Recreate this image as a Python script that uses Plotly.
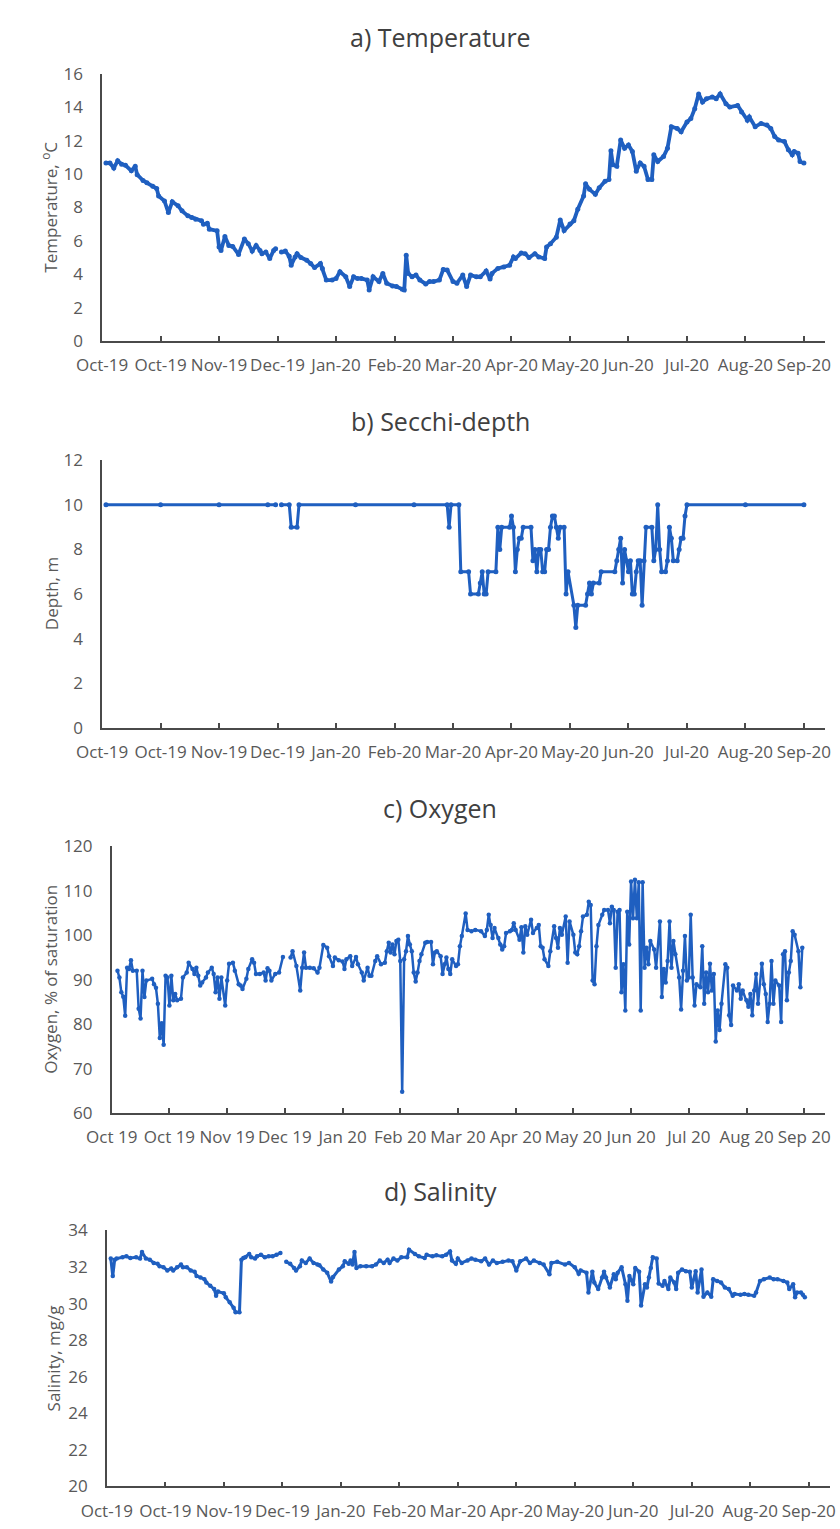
import pandas as pd
import plotly.graph_objects as go

START = "2019-10-01"

# ---------------- data (days since 1 Oct 2019, values) ----------------
temp_days = [2, 4, 6, 8, 10, 12, 15, 17, 18, 21, 23, 26, 28, 29, 32, 34, 36, 39, 41, 44,
             46, 48, 51, 52, 54, 55, 59, 60, 61, 63, 65, 67, 70, 73, 75, 77, 79, 81, 82, 84,
             86, 88, 89, 90, 92, 94, 96, 97, 99, 100, 102, 105, 107, 109, 112, 113, 115, 118, 120, 122,
             125, 127, 129, 131, 133, 136, 137, 139, 142, 144, 146, 149, 151, 154, 155, 156, 157, 159, 161, 163,
             166, 168, 170, 173, 175, 177, 180, 182, 185, 187, 189, 192, 194, 197, 199, 200, 203, 206, 209, 211,
             212, 215, 217, 219, 222, 224, 227, 228, 230, 233, 235, 237, 240, 242, 244, 247, 248, 250, 253, 255,
             258, 260, 261, 262, 264, 266, 268, 270, 272, 274, 276, 278, 280, 282, 283, 285, 288, 290, 292, 295,
             297, 300, 302, 304, 306, 308, 310, 313, 315, 317, 320, 322, 326, 328, 331, 332, 335, 338, 341, 343,
             345, 347, 350, 352, 354, 355, 357, 358, 360]
temp_vals = [10.67, 10.67, 10.37, 10.8, 10.6, 10.53, 10.2, 10.47, 9.97, 9.62, 9.48, 9.28, 9.14, 8.69, 8.39, 7.7, 8.35, 8.1, 7.8, 7.5,
             7.4, 7.3, 7.2, 7.0, 7.05, 6.7, 6.6, 5.63, 5.43, 6.26, 5.73, 5.67, 5.19, 6.12, 5.83, 5.39, 5.73, 5.43, 5.23, 5.33,
             4.94, 5.43, 5.53, None, 5.33, 5.39, 5.08, 4.54, 5.04, 5.23, 5.0, 4.84, 4.64, 4.4, 4.64, 4.35, 3.65, 3.65, 3.75, 4.15,
             3.85, 3.26, 3.85, 3.75, 3.75, 3.65, 3.06, 3.85, 3.56, 4.05, 3.46, 3.3, 3.26, 3.1, 3.06, 5.14, 4.05, 3.85, 3.95, 3.65,
             3.42, 3.56, 3.56, 3.65, 4.29, 4.25, 3.56, 3.46, 3.95, 3.26, 3.95, 3.85, 3.85, 4.2, 3.71, 4.05, 4.35, 4.44, 4.54, 5.04,
             4.94, 5.27, 5.23, 5.0, 5.23, 5.04, 4.94, 5.63, 5.83, 6.22, 7.25, 6.62, 7.01, 7.21, 7.9, 8.69, 9.42, 9.09, 8.79, 9.18,
             9.58, 9.68, 11.4, 10.57, 10.47, 12.05, 11.55, 11.75, 11.36, 10.17, 10.67, 10.47, 9.68, 9.68, 11.16, 10.76, 11.06, 11.55, 12.84, 12.74,
             12.54, 13.13, 13.33, 13.92, 14.81, 14.32, 14.52, 14.62, 14.52, 14.81, 14.22, 14.02, 14.12, 13.73, 13.23, 13.43, 12.84, 13.04, 12.94, 12.74,
             12.25, 12.05, 11.95, 11.46, 11.16, 11.36, 11.26, 10.76, 10.67]

secchi_days = [2, 30, 60, 85, 89, 90, 92, 96, 97, 100, 101, 130, 160, 177, 178, 179, 183, 184, 188, 189,
               193, 194, 195, 196, 197, 198, 202, 203, 204, 205, 209, 210, 211, 212, 213, 214, 215, 216, 220, 221,
               222, 223, 224, 225, 226, 227, 228, 229, 230, 231, 232, 233, 234, 235, 237, 238, 239, 242, 243, 244,
               248, 249, 250, 251, 252, 255, 256, 263, 264, 265, 266, 267, 268, 269, 270, 271, 272, 273, 274, 275,
               276, 277, 278, 279, 282, 283, 284, 285, 286, 287, 289, 290, 291, 292, 293, 295, 296, 297, 298, 299,
               300, 330, 360]
secchi_vals = [10, 10, 10, 10, 10, None, 10, 10, 9, 9, 10, 10, 10, 10, 9, 10, 10, 7, 7, 6,
               6, 6.5, 7, 6, 6, 7, 7, 9, 8, 9, 9, 9.5, 9, 7, 8, 8.5, 8.5, 9, 9, 7.5,
               8, 7, 8, 8, 7, 7, 8, 8, 9, 9.5, 9.5, 9, 8.5, 9, 9, 6, 7, 5.5, 4.5, 5.5,
               5.5, 6, 6.5, 6, 6.5, 6.5, 7, 7, 7.5, 8, 8.5, 6.5, 8, 7.5, 7, 7.5, 6, 6, 7, 7.5,
               7.5, 5.5, 7.5, 9, 9, 7.5, 8, 10, 8, 7, 7, 7.5, 9, 8.5, 7.5, 7.5, 8, 8.5, 8.5, 9.5,
               10, 10, 10]

oxy_days = [3, 4, 5, 6, 7, 8, 9, 10, 11, 13, 14, 15, 16, 17, 18, 21, 22, 23, 24, 25,
            26, 27, 28, 29, 30, 31, 32, 33, 34, 36, 37, 39, 40, 42, 43, 44, 45, 46, 47, 49,
            50, 52, 53, 54, 55, 56, 57, 59, 60, 61, 63, 64, 66, 67, 68, 70, 71, 73, 74, 75,
            77, 79, 80, 81, 82, 83, 85, 87, 89, 91, 93, 94, 96, 98, 99, 100, 101, 103, 105, 107,
            108, 110, 112, 113, 115, 116, 118, 120, 121, 122, 124, 125, 127, 128, 130, 131, 133, 134, 135, 137,
            138, 140, 142, 143, 144, 145, 146, 147, 148, 149, 150, 151, 152, 153, 154, 155, 156, 157, 158, 159,
            160, 161, 163, 164, 166, 167, 168, 169, 171, 172, 173, 174, 175, 176, 177, 179, 180, 181, 182, 184,
            185, 187, 189, 192, 194, 195, 196, 197, 198, 199, 201, 202, 203, 204, 205, 207, 208, 209, 210, 212,
            213, 214, 215, 216, 218, 219, 221, 222, 223, 224, 225, 227, 228, 230, 231, 232, 233, 234, 236, 237,
            238, 240, 241, 242, 243, 244, 245, 247, 248, 249, 250, 251, 252, 253, 255, 256, 258, 259, 260, 261,
            262, 263, 264, 265, 266, 267, 268, 269, 270, 271, 272, 273, 274, 275, 276, 277, 278, 279, 280, 282,
            283, 285, 286, 287, 288, 289, 290, 291, 292, 293, 295, 296, 297, 298, 299, 300, 301, 302, 303, 304,
            306, 307, 308, 309, 310, 311, 312, 313, 314, 315, 316, 317, 319, 320, 321, 322, 323, 325, 326, 327,
            328, 330, 331, 332, 333, 334, 335, 336, 338, 339, 340, 341, 342, 343, 344, 345, 347, 348, 349, 350,
            351, 352, 353, 354, 355, 357, 358, 359]
oxy_vals = [92.0, 90.5, 87.2, 86.2, 81.9, 92.7, 92.4, 94.4, 92.0, 92.0, 83.5, 81.3, 92.0, 86.1, 89.8, 90.2, 89.0, 88.2, 84.6, 76.9,
            80.2, 75.4, 90.9, 90.5, 84.2, 90.9, 85.4, 86.8, 85.4, 85.7, 90.5, 91.6, 93.8, 92.4, 91.3, 92.7, 90.9, 88.7, 89.4, 90.5,
            91.6, 92.7, 91.3, 87.2, 90.5, 85.7, 90.5, 84.2, 89.8, 93.6, 93.8, 92.0, 89.0, 88.7, 87.9, 90.2, 92.4, 94.6, 93.8, 91.3,
            91.3, 91.6, 89.8, 92.6, 92.0, 89.8, 91.3, 91.6, 95.1, None, 95.0, 96.4, 93.1, 87.6, 92.7, 96.1, 92.7, 92.7, 92.6, 91.6,
            92.7, 97.8, 97.2, 95.3, 93.1, 95.0, 94.4, 94.1, 92.4, 94.6, 95.3, 93.1, 95.1, 93.5, 91.6, 89.8, 92.7, 90.9, 90.9, 94.2,
            95.3, 93.5, 93.8, 96.4, 98.3, 96.1, 97.9, 95.7, 98.7, 99.0, 94.2, 64.8, 94.6, 96.4, 99.8, 97.9, 96.4, 91.6, 89.6, 91.6,
            94.2, 95.7, 98.3, 98.5, 98.5, 93.5, 96.1, 96.4, 95.3, 91.3, 93.5, 95.0, 92.4, 91.3, 94.6, 93.1, 93.5, 97.5, 99.8, 104.9,
            101.2, 100.9, 101.2, 100.9, 99.8, 101.2, 104.6, 102.3, 99.4, 101.6, 99.4, 97.9, 96.8, 97.5, 100.5, 100.9, 101.2, 102.7, 101.2, 99.0,
            101.8, 96.1, 102.0, 100.1, 103.5, 100.5, 101.6, 102.3, 97.5, 97.2, 94.6, 93.1, 96.4, 102.0, 99.4, 97.2, 101.6, 100.1, 104.2, 93.8,
            103.1, 100.1, 96.1, 95.7, 97.5, 100.9, 104.2, 104.6, 107.5, 106.8, 89.8, 89.0, 97.5, 102.3, 104.6, 105.7, 105.7, 102.7, 106.4, 105.7,
            92.7, 105.3, 105.7, 87.2, 93.5, 83.1, 105.3, 97.9, 112.1, 103.8, 112.5, 103.8, 111.9, 83.1, 111.9, 92.7, 97.2, 93.5, 98.7, 96.8,
            92.7, 103.1, 86.1, 92.4, 89.4, 94.2, 103.1, 92.7, 98.7, 95.7, 90.5, 83.3, 92.0, 99.8, 89.8, 90.5, 104.6, 90.5, 84.2, 89.0,
            88.3, 97.5, 84.6, 91.6, 87.2, 93.6, 87.6, 91.3, 76.1, 83.1, 78.7, 84.6, 93.5, 92.7, 82.0, 79.8, 88.7, 87.6, 89.0, 85.7,
            87.6, 85.4, 83.9, 86.8, 82.0, 87.6, 91.3, 84.6, 93.6, 89.0, 86.8, 80.5, 84.6, 94.2, 84.6, 89.8, 88.7, 80.5, 95.7, 96.4,
            85.4, 91.6, 94.2, 100.9, 100.1, 96.4, 88.3, 97.2]

sal_days = [2, 3, 4, 5, 8, 10, 12, 15, 17, 18, 20, 22, 24, 26, 27, 29, 31, 33, 34, 36,
            38, 39, 41, 43, 45, 46, 48, 50, 51, 53, 55, 56, 57, 60, 61, 63, 65, 66, 68, 69,
            70, 71, 73, 74, 76, 77, 79, 81, 83, 85, 87, 89, 90, 92, 94, 96, 97, 99, 100, 102,
            104, 106, 108, 109, 111, 113, 115, 116, 119, 121, 122, 124, 125, 126, 127, 128, 130, 133, 136, 138,
            140, 142, 144, 145, 147, 149, 151, 154, 155, 158, 160, 163, 164, 167, 169, 172, 174, 176, 177, 179,
            180, 182, 185, 187, 189, 192, 194, 196, 198, 200, 203, 206, 208, 210, 212, 215, 217, 219, 222, 224,
            227, 228, 231, 235, 237, 240, 242, 243, 246, 247, 249, 250, 252, 254, 255, 256, 258, 260, 261, 262,
            264, 266, 267, 268, 270, 271, 273, 274, 276, 277, 278, 279, 280, 282, 283, 285, 286, 288, 289, 291,
            292, 293, 295, 297, 299, 300, 302, 303, 305, 306, 308, 310, 311, 313, 315, 317, 319, 321, 322, 325,
            327, 329, 332, 333, 335, 337, 340, 342, 344, 347, 349, 350, 352, 353, 354, 356, 357, 358]
sal_vals = [32.46, 31.5, 32.4, 32.46, 32.53, 32.58, 32.49, 32.53, 32.46, 32.82, 32.46, 32.4, 32.22, 32.17, 32.04, 31.99, 31.81, 31.92, 31.81, 31.99,
            32.13, 31.99, 31.99, 31.81, 31.74, 31.51, 31.42, 31.33, 31.15, 30.97, 30.79, 30.43, 30.66, 30.56, 30.34, 30.07, 29.77, 29.53, 29.53, 32.4,
            32.49, 32.53, 32.71, 32.53, 32.46, 32.58, 32.67, 32.53, 32.58, 32.58, 32.67, 32.76, None, 32.28, 32.17, 31.95, 31.81, 32.04, 32.35, 32.22,
            32.46, 32.22, 32.13, 32.1, 31.86, 31.69, 31.2, 31.45, 31.86, 32.04, 32.31, 32.17, 32.35, 32.13, 32.82, 31.95, 32.04, 32.04, 32.04, 32.13,
            32.35, 32.22, 32.4, 32.22, 32.46, 32.35, 32.53, 32.53, 32.94, 32.71, 32.58, 32.49, 32.67, 32.58, 32.64, 32.58, 32.67, 32.85, 32.35, 32.17,
            32.46, 32.22, 32.35, 32.46, 32.4, 32.31, 32.46, 32.13, 32.35, 32.22, 32.28, 32.35, 32.31, 31.81, 32.31, 32.46, 32.22, 32.35, 32.22, 32.13,
            31.6, 32.22, 32.28, 32.13, 32.22, 31.99, 31.63, 31.81, 31.69, 30.61, 31.74, 31.15, 30.79, 31.42, 31.74, 31.42, 30.88, 31.6, 31.33, 31.69,
            31.99, 31.06, 30.16, 31.51, 31.06, 31.95, 31.74, 29.89, 31.06, 30.88, 31.42, 31.95, 32.53, 32.46, 31.1, 30.97, 31.24, 30.79, 31.42, 31.15,
            30.79, 31.69, 31.86, 31.77, 31.74, 30.88, 31.77, 30.61, 31.86, 30.37, 30.61, 30.37, 31.33, 31.24, 31.15, 30.88, 30.79, 30.43, 30.52, 30.48,
            30.52, 30.48, 30.43, 30.61, 31.24, 31.33, 31.42, 31.33, 31.33, 31.24, 31.15, 30.79, 31.06, 30.34, 30.61, 30.61, 30.48, 30.34]

tick_text_dash = ["Oct-19", "Oct-19", "Nov-19", "Dec-19", "Jan-20", "Feb-20", "Mar-20",
                  "Apr-20", "May-20", "Jun-20", "Jul-20", "Aug-20", "Sep-20"]
tick_text_space = ["Oct 19", "Oct 19", "Nov 19", "Dec 19", "Jan 20", "Feb 20", "Mar 20",
                   "Apr 20", "May 20", "Jun 20", "Jul 20", "Aug 20", "Sep 20"]

titles = ["a) Temperature", "b) Secchi-depth", "c) Oxygen", "d) Salinity"]
ytitles = ["Temperature, <sup>o</sup>C", "Depth, m", "Oxygen, % of saturation", "Salinity, mg/g"]
yranges = [[0, 16], [0, 12], [60, 120], [20, 34]]
ydticks = [2, 2, 10, 2]

# ---------------- layout geometry (pixels) ----------------
W, H = 840, 1529
# (x_left, x_right, y_top, y_bottom, title_y, ytitle_x)
panels = [
    (79, 830, 63, 334, 25, 24),
    (79, 830, 455, 727, 415, 26),
    (89, 830, 847, 1118, 808, 26),
    (84, 835, 1237, 1497, 1197, 28),
]
TITLE_X = 430
XSPAN = 371  # days shown on each x-axis

start = pd.Timestamp(START)
def to_dates(days):
    return [start + pd.Timedelta(days=d) for d in days]

tickvals = [start + pd.Timedelta(days=30 * k) for k in range(13)]
xrange_ = [start, start + pd.Timedelta(days=XSPAN)]

BLUE = "#1f5fc0"
TXT = "#595959"
AX = "#4a4a4a"
FONT = "Open Sans"

series = [
    (temp_days, temp_vals, 3.8, 5),
    (secchi_days, secchi_vals, 3.0, 5),
    (oxy_days, oxy_vals, 2.5, 4.5),
    (sal_days, sal_vals, 3.0, 4.5),
]

fig = go.Figure()
annotations = []
for i, ((xl, xr, yt, yb, ty, ytx), (d, v, lw, ms)) in enumerate(zip(panels, series)):
    n = "" if i == 0 else str(i + 1)
    fig.add_trace(go.Scatter(
        x=to_dates(d), y=v, mode="lines+markers",
        line=dict(color=BLUE, width=lw), marker=dict(color=BLUE, size=ms),
        connectgaps=False, showlegend=False,
        xaxis="x" + n, yaxis="y" + n,
    ))
    xa = dict(
        domain=[xl / W, xr / W], anchor="y" + n, range=xrange_, type="date",
        tickmode="array", tickvals=tickvals,
        ticktext=tick_text_space if i == 2 else tick_text_dash,
        ticks="inside", ticklen=5, tickwidth=1.5, tickcolor=AX,
        ticklabelstandoff=8,
        showline=True, linecolor=AX, linewidth=1.5, showgrid=False, zeroline=False,
        tickfont=dict(family=FONT, size=17, color=TXT), fixedrange=True,
    )
    ya = dict(
        domain=[1 - yb / H, 1 - yt / H], anchor="x" + n, range=yranges[i],
        tickmode="linear", tick0=yranges[i][0], dtick=ydticks[i],
        ticks="", showline=True, linecolor=AX, linewidth=1.5, showgrid=False,
        zeroline=False, ticklabelstandoff=14,
        tickfont=dict(family=FONT, size=17, color=TXT), fixedrange=True,
    )
    fig.update_layout(**{"xaxis" + n: xa, "yaxis" + n: ya})
    annotations.append(dict(
        text=titles[i], x=TITLE_X / W, y=1 - ty / H, xref="paper", yref="paper",
        xanchor="center", yanchor="middle", showarrow=False,
        font=dict(family=FONT, size=25, color="#404040"),
    ))
    annotations.append(dict(
        text=ytitles[i], x=ytx / W, y=1 - (yt + yb) / 2 / H, xref="paper", yref="paper",
        xanchor="center", yanchor="middle", showarrow=False, textangle=-90,
        font=dict(family=FONT, size=17, color=TXT),
    ))

fig.update_layout(
    width=W, height=H, margin=dict(l=0, r=0, t=0, b=0),
    paper_bgcolor="white", plot_bgcolor="white",
    annotations=annotations,
)

fig.write_html("out.html")
